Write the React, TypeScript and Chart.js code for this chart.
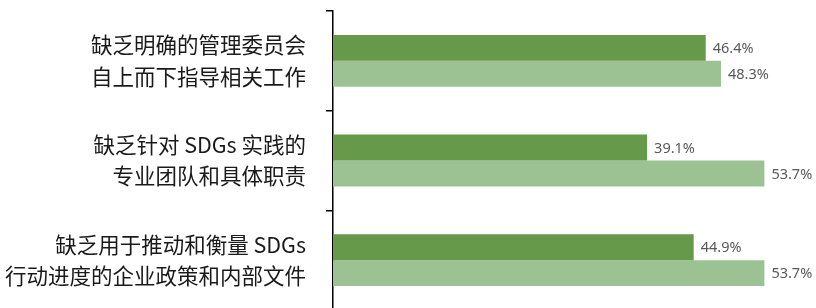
import React, { useEffect, useRef } from "react";
import { Chart, registerables } from "chart.js";

Chart.register(...registerables);

const categories: string[][] = [
  ["缺乏明确的管理委员会", "自上而下指导相关工作"],
  ["缺乏针对 SDGs 实践的", "专业团队和具体职责"],
  ["缺乏用于推动和衡量 SDGs", "行动进度的企业政策和内部文件"],
];
const seriesA: number[] = [46.4, 39.1, 44.9];
const seriesB: number[] = [48.3, 53.7, 53.7];
const xMax = 60;

const COLOR_A = "#669a4a";
const COLOR_B = "#9cc293";

const valueLabels = {
  id: "valueLabels",
  afterDatasetsDraw(chart: any) {
    const ctx = chart.ctx;
    ctx.save();
    ctx.font = '14.5px "Noto Sans", sans-serif';
    ctx.fillStyle = "#595959";
    ctx.textAlign = "left";
    ctx.textBaseline = "middle";
    chart.data.datasets.forEach((ds: any, di: number) => {
      const meta = chart.getDatasetMeta(di);
      meta.data.forEach((bar: any, i: number) => {
        ctx.fillText(ds.data[i].toFixed(1) + "%", bar.x + 7, bar.y + 1);
      });
    });
    ctx.restore();
  },
};

export default function App() {
  const ref = useRef<HTMLCanvasElement | null>(null);
  useEffect(() => {
    if (!ref.current) return;
    const chart = new Chart(ref.current, {
      type: "bar",
      data: {
        labels: categories,
        datasets: [
          { label: "A", data: seriesA, backgroundColor: COLOR_A, categoryPercentage: 0.52, barPercentage: 1 },
          { label: "B", data: seriesB, backgroundColor: COLOR_B, categoryPercentage: 0.52, barPercentage: 1 },
        ],
      },
      options: {
        indexAxis: "y",
        animation: false,
        responsive: false,
        maintainAspectRatio: false,
        layout: { padding: { top: 11, bottom: 0, left: 0, right: 1 } },
        plugins: { legend: { display: false }, tooltip: { enabled: false } },
        scales: {
          x: { display: false, min: 0, max: xMax },
          y: {
            afterFit: (scale: any) => {
              scale.width = 333;
              scale.paddingTop = 0;
              scale.paddingBottom = 0;
            },
            border: { display: true, color: "#000", width: 1.5 },
            grid: { drawOnChartArea: false, tickLength: 7, color: "#000", lineWidth: 1.5, offset: true },
            ticks: {
              padding: 20,
              color: "#1a1a1a",
              font: { family: '"Noto Sans CJK SC", sans-serif', size: 21.5, lineHeight: 1.47 },
            },
          },
        },
      },
      plugins: [valueLabels],
    });
    return () => chart.destroy();
  }, []);
  return (
    <div style={{ position: "fixed", left: 0, top: 0, width: 816, height: 310 }}>
      <canvas ref={ref} width={816} height={310} style={{ width: 816, height: 310 }} />
    </div>
  );
}
